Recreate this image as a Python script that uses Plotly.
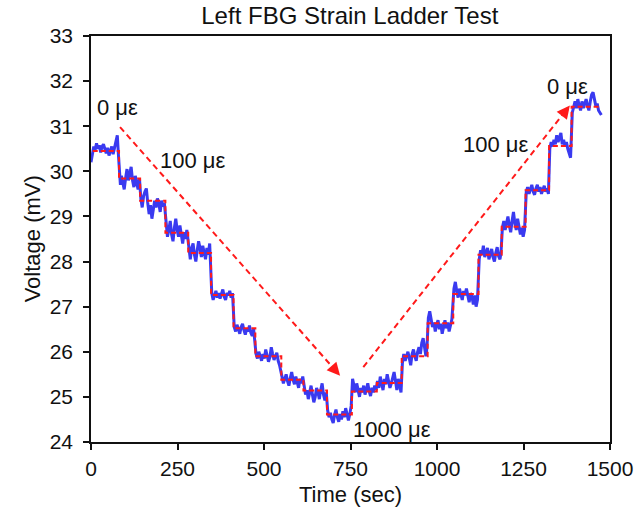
import plotly.graph_objects as go

# ---- data ----
step_time = [5, 81, 142, 215, 281, 347, 412, 475, 550, 614, 682, 754, 826, 898,
             973, 1047, 1120, 1187, 1256, 1324, 1389, 1469]
step_volt = [30.45, 29.84, 29.35, 28.64, 28.19, 27.26, 26.52, 25.90, 25.38, 25.14,
             24.61, 25.12, 25.31, 25.90, 26.63, 27.28, 28.15, 28.77, 29.58, 30.56, 31.43]

blue_time = [0, 4, 8, 12, 16, 20, 24, 28, 32, 36, 40, 44, 48, 52, 56, 60, 64, 68, 72, 76, 79,
             82, 85, 88, 92, 96, 100, 104, 108, 112, 116, 120, 124, 128, 132, 136, 140,
             144, 148, 152, 156, 160, 164, 168, 172, 176, 180, 184, 188, 192, 196, 200, 204, 208, 212,
             217, 221, 225, 229, 233, 237, 241, 245, 249, 253, 257, 261, 265, 269, 273, 277,
             283, 287, 291, 295, 299, 303, 307, 311, 315, 319, 323, 327, 331, 335, 339, 343,
             349, 353, 357, 361, 365, 369, 373, 377, 381, 385, 389, 393, 397, 401, 405, 409,
             414, 418, 422, 426, 430, 434, 438, 442, 446, 450, 454, 458, 462, 466, 470,
             477, 481, 485, 489, 493, 497, 501, 505, 509, 513, 517, 521, 525, 529, 533, 537, 541, 545,
             552, 556, 560, 564, 568, 572, 576, 580, 584, 588, 592, 596, 600, 604, 608, 612,
             616, 620, 624, 628, 632, 636, 640, 644, 648, 652, 656, 660, 664, 668, 672, 676, 680,
             684, 688, 692, 696, 700, 704, 708, 712, 716, 720, 724, 728, 732, 736, 740, 744, 748, 752,
             756, 760, 764, 768, 772, 776, 780, 784, 788, 792, 796, 800, 804, 808, 812, 816, 820, 824,
             828, 832, 836, 840, 844, 848, 852, 856, 860, 864, 868, 872, 876, 880, 884, 888, 892, 896,
             900, 904, 908, 912, 916, 920, 924, 928, 932, 936, 940, 944, 948, 952, 956, 960, 964, 968, 971,
             975, 979, 983, 987, 991, 995, 999, 1003, 1007, 1011, 1015, 1019, 1023, 1027, 1031, 1035, 1039, 1043,
             1049, 1053, 1057, 1061, 1065, 1069, 1073, 1077, 1081, 1085, 1089, 1093, 1097, 1101, 1105, 1109, 1113, 1117,
             1122, 1126, 1130, 1134, 1138, 1142, 1146, 1150, 1154, 1158, 1162, 1166, 1170, 1174, 1178, 1182, 1185,
             1189, 1193, 1197, 1201, 1205, 1209, 1213, 1217, 1221, 1225, 1229, 1233, 1237, 1241, 1245, 1249, 1253,
             1258, 1262, 1266, 1270, 1274, 1278, 1282, 1286, 1290, 1294, 1298, 1302, 1306, 1310, 1314, 1318, 1322,
             1326, 1330, 1334, 1338, 1342, 1346, 1350, 1354, 1358, 1362, 1366, 1370, 1374, 1378, 1382, 1386,
             1391, 1395, 1399, 1403, 1407, 1411, 1415, 1419, 1423, 1427, 1431, 1435, 1439, 1443, 1447, 1451,
             1455, 1459, 1463, 1467, 1471, 1475]
blue_volt = [30.20, 30.38, 30.55, 30.48, 30.62, 30.50, 30.58, 30.42, 30.55, 30.60, 30.47, 30.40, 30.52,
             30.35, 30.45, 30.55, 30.38, 30.50, 30.62, 30.80, 30.40,
             29.95, 29.70, 29.90, 29.75, 29.60, 29.85, 30.05, 29.80, 29.95, 30.10, 29.80, 29.65, 29.90,
             29.78, 29.60, 29.85,
             29.40, 29.20, 29.45, 29.55, 29.62, 29.30, 29.05, 29.25, 28.95, 29.15, 29.35, 29.20, 29.40,
             29.28, 29.10, 29.35, 29.22, 29.30,
             28.80, 28.55, 28.70, 28.90, 28.60, 28.45, 28.75, 28.95, 28.70, 28.55, 28.80, 28.62, 28.40,
             28.65, 28.50, 28.70,
             28.25, 28.05, 28.30, 28.40, 28.15, 28.00, 28.25, 28.45, 28.30, 28.10, 28.35, 28.20, 28.05,
             28.30, 28.15, 28.40,
             27.30, 27.15, 27.25, 27.35, 27.20, 27.30, 27.18, 27.28, 27.38, 27.22, 27.15, 27.30, 27.25,
             27.35, 27.20, 27.30,
             26.55, 26.45, 26.60, 26.50, 26.40, 26.55, 26.62, 26.48, 26.38, 26.52, 26.45, 26.58, 26.42,
             26.35, 26.50,
             25.95, 25.85, 26.00, 25.90, 25.80, 25.95, 25.85, 26.05, 25.92, 25.78, 25.88, 26.10, 25.95,
             25.82, 25.90, 25.98, 25.80, 25.70,
             25.45, 25.30, 25.40, 25.50, 25.35, 25.25, 25.42, 25.55, 25.38, 25.28, 25.45, 25.35, 25.20,
             25.40, 25.30, 25.45,
             25.20, 25.05, 25.15, 24.95, 25.10, 25.25, 25.05, 24.88, 25.00, 25.20, 25.10, 24.95, 25.15,
             25.30, 25.05, 24.92, 25.10,
             24.70, 24.55, 24.65, 24.50, 24.42, 24.60, 24.72, 24.55, 24.45, 24.62, 24.50, 24.68, 24.55,
             24.75, 24.60, 24.48, 24.62, 24.80,
             25.40, 25.25, 25.10, 25.30, 25.15, 25.00, 25.20, 25.10, 25.25, 25.05, 25.18, 25.30, 25.12,
             25.02, 25.20, 25.10, 25.25, 25.15,
             25.35, 25.20, 25.45, 25.30, 25.15, 25.40, 25.28, 25.50, 25.35, 25.20, 25.30, 25.45, 25.55,
             25.35, 25.15, 25.40, 25.25, 25.10,
             25.75, 25.95, 25.80, 25.90, 26.00, 25.85, 25.70, 25.95, 26.05, 25.90, 25.80, 26.00, 26.10,
             25.95, 26.20, 26.30, 26.05, 25.90, 26.10,
             26.75, 26.90, 26.70, 26.55, 26.65, 26.45, 26.60, 26.70, 26.50, 26.62, 26.40, 26.58, 26.70,
             26.52, 26.65, 26.45, 26.60, 26.72,
             27.40, 27.55, 27.35, 27.20, 27.40, 27.30, 27.15, 27.35, 27.25, 27.40, 27.20, 27.10, 27.30,
             27.22, 27.05, 27.25, 27.00, 27.15,
             28.05, 28.25, 28.15, 28.35, 28.10, 28.20, 28.30, 28.05, 28.15, 28.28, 28.10, 28.00, 28.20,
             28.32, 28.12, 28.05, 28.20,
             28.75, 28.90, 28.70, 28.85, 29.00, 28.80, 28.65, 28.90, 29.10, 28.85, 28.70, 28.95, 28.80,
             28.60, 28.75, 28.55, 28.70,
             29.55, 29.65, 29.50, 29.60, 29.70, 29.55, 29.48, 29.62, 29.70, 29.55, 29.65, 29.50, 29.60,
             29.68, 29.55, 29.62, 29.50,
             30.50, 30.65, 30.55, 30.70, 30.60, 30.80, 30.65, 30.75, 30.85, 30.60, 30.70, 30.55, 30.65,
             30.50, 30.40, 30.30,
             31.30, 31.45, 31.55, 31.40, 31.60, 31.45, 31.35, 31.55, 31.40, 31.50, 31.60, 31.45, 31.35,
             31.55, 31.70, 31.75, 31.60, 31.45, 31.50, 31.35, 31.30, 31.25]

arrow_start_time = [84, 787]
arrow_start_volt = [30.98, 25.66]
arrow_end_time = [720, 1384]
arrow_end_volt = [25.47, 31.46]

label_text = ["0 με", "100 με", "1000 με", "100 με", "0 με"]
label_time = [76, 293, 870, 1168, 1376]
label_volt = [31.42, 30.25, 24.27, 30.60, 31.88]

x_ticks = [0, 250, 500, 750, 1000, 1250, 1500]
y_ticks = [24, 25, 26, 27, 28, 29, 30, 31, 32, 33]

RED = "#ff1a1a"
BLUE = "#3a3af0"
INK = "#111111"
FONT = "Liberation Sans"
TICK_SIZE = 21
TEXT_SIZE = 22

fig = go.Figure()

fig.add_trace(go.Scatter(x=blue_time, y=blue_volt, mode="lines",
                         line=dict(color=BLUE, width=3), showlegend=False))

fig.add_trace(go.Scatter(x=step_time, y=step_volt + [step_volt[-1]], mode="lines",
                         line=dict(color=RED, width=2, dash="5px,3px", shape="hv"),
                         showlegend=False))

for i in range(len(arrow_start_time)):
    xs, ys = arrow_start_time[i], arrow_start_volt[i]
    xe, ye = arrow_end_time[i], arrow_end_volt[i]
    fig.add_trace(go.Scatter(x=[xs, xe - 0.02 * (xe - xs)], y=[ys, ye - 0.02 * (ye - ys)],
                             mode="lines", line=dict(color=RED, width=2, dash="6px,4px"),
                             showlegend=False))
    fig.add_annotation(x=xe, y=ye, ax=xe - 0.035 * (xe - xs), ay=ye - 0.035 * (ye - ys),
                       xref="x", yref="y", axref="x", ayref="y", text="",
                       showarrow=True, arrowhead=2, arrowsize=1.3, arrowwidth=2,
                       arrowcolor=RED)

for t, x, y in zip(label_text, label_time, label_volt):
    fig.add_annotation(x=x, y=y, xref="x", yref="y", text=t, showarrow=False,
                       font=dict(family=FONT, size=TEXT_SIZE, color=INK))

# axis titles
fig.add_annotation(x=0.5, y=-0.129, xref="paper", yref="paper", text="Time (sec)",
                   showarrow=False, xanchor="center", yanchor="middle",
                   font=dict(family=FONT, size=TEXT_SIZE, color=INK))
fig.add_annotation(x=-0.113, y=0.5, xref="paper", yref="paper", text="Voltage (mV)",
                   showarrow=False, xanchor="center", yanchor="middle", textangle=-90,
                   font=dict(family=FONT, size=TEXT_SIZE, color=INK))

fig.update_layout(
    width=636, height=517,
    paper_bgcolor="white", plot_bgcolor="white",
    margin=dict(l=91, r=26, t=36, b=75),
    title=dict(text="Left FBG Strain Ladder Test", x=0.55, xanchor="center",
               y=0.969, yanchor="middle",
               font=dict(family=FONT, size=24, color=INK)),
    font=dict(family=FONT, color=INK),
)
fig.update_xaxes(range=[0, 1500], tickvals=x_ticks, ticks="outside", ticklen=6,
                 tickwidth=1.5, tickcolor=INK, showline=True, linecolor=INK,
                 linewidth=1.5, mirror=True, showgrid=False, zeroline=False,
                 automargin=False, ticklabelstandoff=1,
                 tickfont=dict(family=FONT, size=TICK_SIZE))
fig.update_yaxes(range=[24, 33], tickvals=y_ticks, ticks="outside", ticklen=6,
                 tickwidth=1.5, tickcolor=INK, showline=True, linecolor=INK,
                 linewidth=1.5, mirror=True, showgrid=False, zeroline=False,
                 automargin=False, ticklabelstandoff=6,
                 tickfont=dict(family=FONT, size=TICK_SIZE))

fig.write_html("out.html", config={"displayModeBar": False},
               post_script="document.body.style.margin='0';")
